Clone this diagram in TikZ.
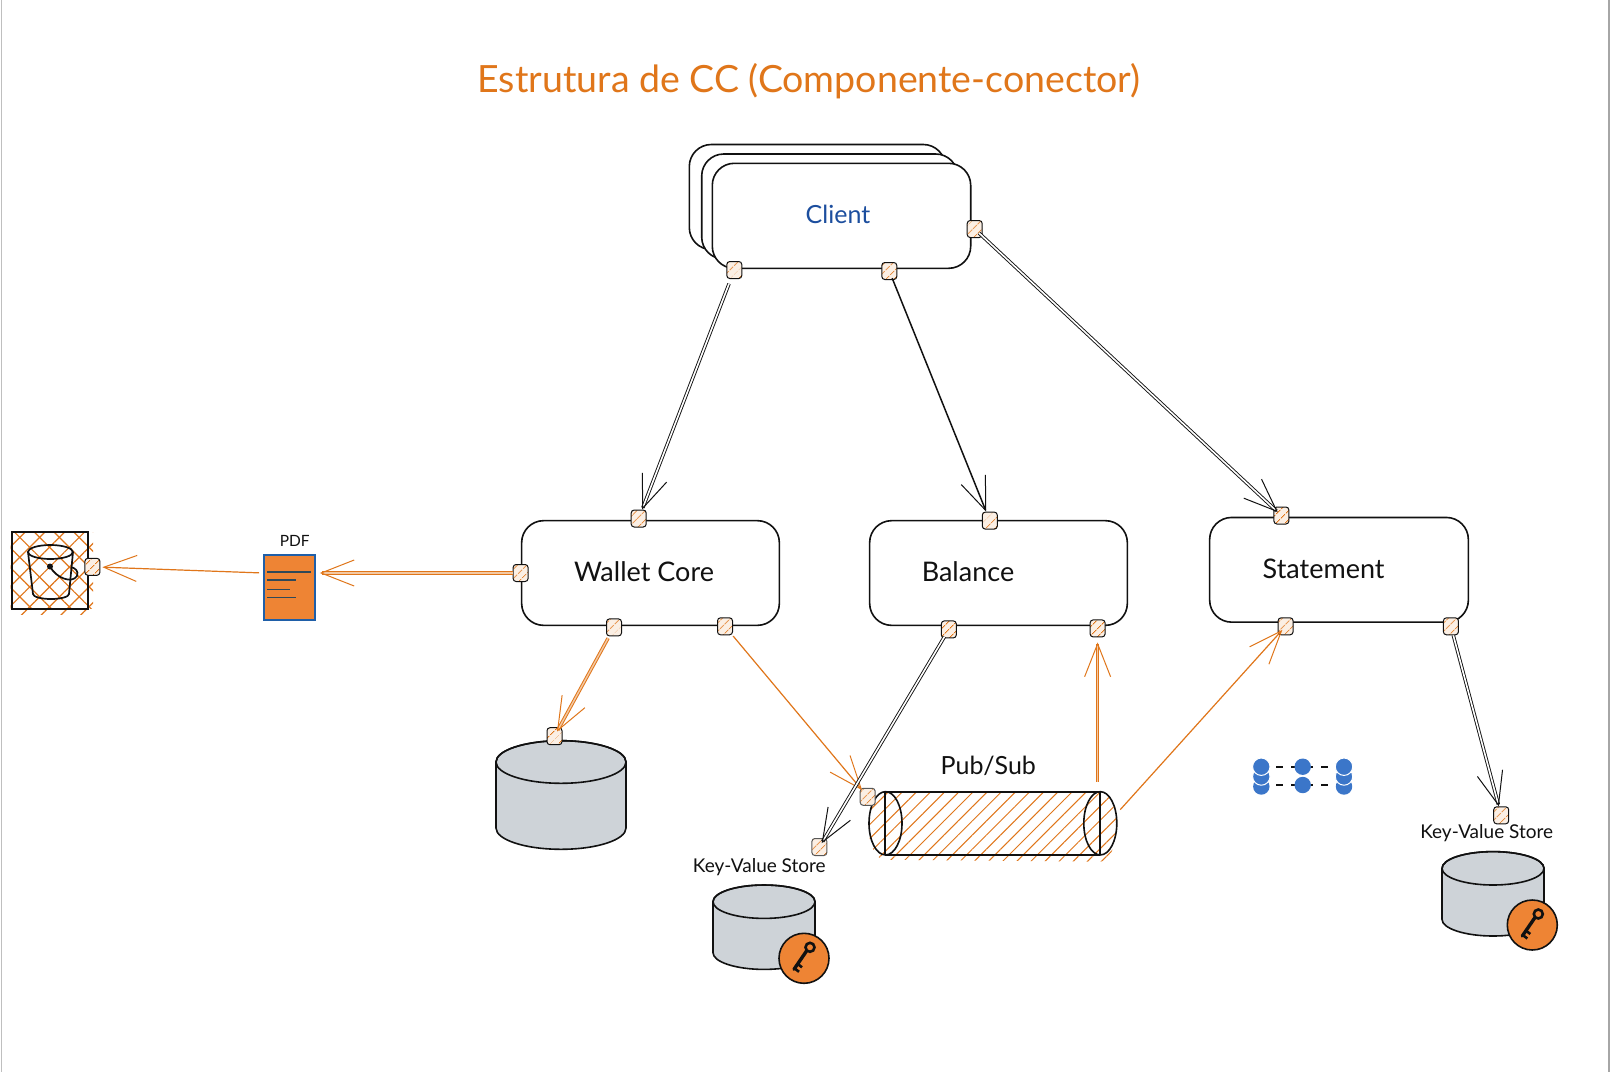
\documentclass[tikz,border=0pt]{standalone}
\usepackage{fontspec}
\setmainfont{Lato}
\usetikzlibrary{arrows.meta,patterns.meta}
\definecolor{ink}{HTML}{111111}
\definecolor{orng}{HTML}{E0761A}
\definecolor{peach}{HTML}{F3C9A4}
\definecolor{badge}{HTML}{EE8434}
\definecolor{dbgray}{HTML}{CED3D8}
\definecolor{clientblue}{HTML}{1C4E9E}
\definecolor{pdfblue}{HTML}{1F5FA8}
\definecolor{pdfline}{HTML}{2F4858}
\definecolor{iconblue}{HTML}{3B76C9}
\tikzset{
  boxcomp/.style={draw=ink,line width=1.6pt,rounded corners=22pt,fill=white,inner sep=0pt},
  lbl/.style={inner sep=0pt,text=ink,font=\fontsize{27}{32}\selectfont},
  lblsmall/.style={inner sep=0pt,text=ink,font=\fontsize{19}{23}\selectfont},
  portbox/.style={draw=ink,line width=1pt,rounded corners=3pt,minimum width=15pt,minimum height=17pt,inner sep=0pt,
    preaction={fill=peach!30},pattern={Lines[angle=45,distance=6.5pt,line width=1.1pt]},pattern color=orng},
  tipb/.style={-{Straight Barb[length=33pt,width=26pt,line width=1pt]}},
  arrblack/.style={tipb,draw=ink,line width=0.9pt,double=white,double distance=1.6pt},
  arrsolid/.style={tipb,draw=ink,line width=1.5pt},
  arrorange/.style={tipb,draw=orng,line width=1pt,double=peach,double distance=1.4pt},
  arrthin/.style={tipb,draw=orng,line width=1.2pt},
  cylline/.style={draw=ink,line width=1.6pt},
  iconline/.style={draw=ink,line width=1.8pt,dash pattern=on 7pt off 8pt},
  ghost/.style={inner sep=0pt,draw=none},
}
\newcommand{\cylfig}[5]{% cx, top cy, rx, ry, h
  \path[fill=dbgray,cylline] (#1-#3,#2) -- (#1-#3,#2+#5) arc[start angle=180,end angle=360,x radius=#3pt,y radius=#4pt] -- (#1+#3,#2) arc[start angle=0,end angle=180,x radius=#3pt,y radius=#4pt] -- cycle;
  \path[cylline] (#1,#2) ellipse[x radius=#3pt,y radius=#4pt];
}
\newcommand{\keybadge}[2]{%
  \begin{scope}[shift={(#1,#2)}]
    \path[fill=badge,draw=ink,line width=1.6pt] (0,0) circle[radius=25pt];
    \draw[ink,line width=3.4pt,line cap=round] (3,-8) -- (-10,11);
    \draw[ink,line width=2.6pt] (-6.5,5.5) -- (-2,9) (-9.5,10) -- (-5,13.5);
    \path[draw=ink,line width=2.6pt,fill=badge] (6,-11) circle[radius=4.5pt];
  \end{scope}
}
\newcommand{\stackthree}[1]{%
  \fill[iconblue] (#1,786.5) circle[radius=8.2pt];
  \path[fill=iconblue,draw=white,line width=1pt] (#1,776.5) circle[radius=8.7pt];
  \path[fill=iconblue,draw=white,line width=1pt] (#1,766.7) circle[radius=8.7pt];
}
\begin{document}
\begin{tikzpicture}[x=1pt,y=-1pt]
\useasboundingbox (0,0) rectangle (1610,1072);
\fill[white] (0,0) rectangle (1610,1072);
\draw[gray!50,line width=1pt] (1,0) -- (1,1072);
\draw[gray!70,line width=2pt] (1609,0) -- (1609,1072);

\node[inner sep=0pt,text=orng,font=\fontsize{37.5}{45}\selectfont] (title) at (809,81) {Estrutura de CC (Componente-conector)};

% client stack
\node[boxcomp,minimum width=256pt,minimum height=105pt] (clientc) at (817.3,197) {};
\node[boxcomp,minimum width=256pt,minimum height=105pt] (clientb) at (829.7,206.5) {};
\node[boxcomp,minimum width=258.4pt,minimum height=105pt] (client) at (841.5,215.8) {};
\node[inner sep=0pt,text=clientblue,font=\fontsize{25}{30}\selectfont] (clientlbl) at (838,214) {Client};

% components
\node[boxcomp,minimum width=257.7pt,minimum height=104.7pt] (wallet) at (650.5,573) {};
\node[lbl] (walletlbl) at (644,572) {Wallet Core};
\node[boxcomp,minimum width=257.7pt,minimum height=104.7pt] (balance) at (998.5,573) {};
\node[lbl] (balancelbl) at (968,572) {Balance};
\node[boxcomp,minimum width=258.7pt,minimum height=104.7pt] (statement) at (1339,569.8) {};
\node[lbl] (statementlbl) at (1323.6,569) {Statement};

% bucket
\node[ghost,minimum width=76pt,minimum height=76pt] (bucket) at (49.8,570.4) {};
\path[fill=white] (bucket.south west) rectangle (bucket.north east);
\path[pattern={Lines[angle=45,distance=14pt,line width=1.2pt]},pattern color=orng] ([xshift=-1pt]bucket.north west) rectangle ([xshift=5pt,yshift=-6pt]bucket.south east);
\path[pattern={Lines[angle=-45,distance=14pt,line width=1.2pt]},pattern color=orng] ([xshift=-1pt]bucket.north west) rectangle ([xshift=5pt]bucket.south east);
\draw[ink,line width=2.2pt] (bucket.south west) rectangle (bucket.north east);
\draw[ink,line width=1.7pt] (50.4,552) ellipse[x radius=22.5pt,y radius=7pt];
\draw[ink,line width=1.7pt] (28,552) -- (33,594) arc[start angle=180,end angle=360,x radius=18pt,y radius=5pt] -- (73,552);
\fill[ink] (50,566.5) circle[radius=3pt];
\draw[ink,line width=1.7pt] (50,566.5) .. controls (56,578) and (72,584) .. (77,576) .. controls (79,571) and (75,568) .. (71,567);

% pdf
\node[draw=pdfblue,line width=1.6pt,fill=badge,minimum width=51pt,minimum height=65pt,inner sep=0pt] (pdf) at (289.5,587.3) {};
\node[inner sep=0pt,text=ink,font=\fontsize{15.5}{19}\selectfont] (pdflbl) at (294.7,541) {PDF};
\draw[pdfline,line width=1.7pt] (267,571.7) -- (311,571.7) (267,580) -- (296,580) (267,589.5) -- (290,589.5) (267,597.6) -- (296,597.6);

% databases
\cylfig{561}{762}{65}{21.3}{66}
\node[ghost,minimum width=130pt,minimum height=109pt] (maindb) at (561,795) {};
\node[lblsmall] (kvlblone) at (759.3,866.7) {Key-Value Store};
\cylfig{764}{901.7}{51}{16.7}{51}
\node[ghost,minimum width=102pt,minimum height=84pt] (kvone) at (764,927) {};
\keybadge{804}{958.3}
\node[lblsmall] (kvlbltwo) at (1486.7,832.7) {Key-Value Store};
\cylfig{1493}{868.3}{51}{16.7}{51}
\node[ghost,minimum width=102pt,minimum height=84pt] (kvtwo) at (1493,894) {};
\keybadge{1532.3}{925}

% pub/sub
\node[lbl,font=\fontsize{25}{30}\selectfont] (pubsublbl) at (988.3,766) {Pub/Sub};
\node[ghost,minimum width=247.5pt,minimum height=63.3pt] (pubsub) at (993,823.3) {};
\path[preaction={fill=white},pattern={Lines[angle=45,distance=10pt,line width=1pt]},pattern color=orng]
  (885,791.7) -- (1100,791.7) arc[start angle=90,end angle=-90,x radius=16.5pt,y radius=35pt] -- (885,859.7) arc[start angle=270,end angle=90,x radius=16.5pt,y radius=34pt] -- cycle;
\fill[white] (870,859) rectangle (885,862);
\draw[cylline] (885,791.7) -- (1100,791.7) (885,855) -- (1100,855) (885,791.7) -- (885,855) (1100,791.7) -- (1100,855);
\draw[cylline] (885.5,823.3) ellipse[x radius=16.5pt,y radius=31.65pt];
\draw[cylline] (1100.3,823.3) ellipse[x radius=16.5pt,y radius=31.65pt];

% replication icon
\draw[iconline] (1261.3,766.7) -- (1344,766.7);
\draw[iconline] (1261.3,785) -- (1344,785);
\stackthree{1261.3}
\stackthree{1344}
\fill[iconblue] (1302.7,766.7) circle[radius=8.2pt];
\fill[iconblue] (1302.7,785) circle[radius=8.2pt];

% ports
\node[portbox] (cp1) at (734.3,270) {};
\node[portbox] (cp2) at (889.3,271) {};
\node[portbox] (cp3) at (974.7,229) {};
\node[portbox] (wtop) at (638.7,518.5) {};
\node[portbox] (wleft) at (520.6,573) {};
\node[portbox] (wb1) at (614,627.4) {};
\node[portbox] (wb2) at (725,626.3) {};
\node[portbox] (btop) at (989.8,520.6) {};
\node[portbox] (bb1) at (948.8,629.4) {};
\node[portbox] (bb2) at (1097.6,628.4) {};
\node[portbox] (stop) at (1281.4,515.5) {};
\node[portbox] (sb1) at (1285.6,626.3) {};
\node[portbox] (sb2) at (1450.9,626.3) {};
\node[portbox] (dbp) at (554.5,736.2) {};
\node[portbox] (bkp) at (92.4,566.8) {};
\node[portbox,draw=ink!70] (psp) at (867.7,796.8) {};
\node[portbox,draw=ink!70] (kvp1) at (819.4,847) {};
\node[portbox] (kvp2) at (1501.2,815.3) {};

% connectors
\draw[arrblack,shorten <=5pt] (cp1) -- (wtop);
\draw[arrsolid,shorten <=-2pt] (cp2) -- (btop);
\draw[arrblack,shorten <=-5pt,shorten >=-6pt] (cp3) -- (stop);
\draw[arrorange,shorten >=4pt] (wleft) -- (pdf.east |- wleft);
\draw[arrthin,shorten <=4pt,shorten >=2pt] (pdf.west |- wleft) -- (bkp);
\draw[arrorange,shorten <=2pt,shorten >=-5pt] (wb1) -- (dbp);
\draw[arrthin,shorten <=1pt,shorten >=-3pt] (wb2) -- (psp);
\draw[arrblack,shorten <=-2pt,shorten >=-6pt] (bb1) -- (kvp1);
\draw[arrorange,shorten <=9.7pt,shorten >=5pt] (bb2 |- pubsub.north) -- (bb2);
\draw[arrthin,shorten <=5pt,shorten >=-7pt] ([yshift=10pt]pubsub.east) -- (sb1);
\draw[arrblack] (sb2) -- (kvp2);
\end{tikzpicture}
\end{document}
